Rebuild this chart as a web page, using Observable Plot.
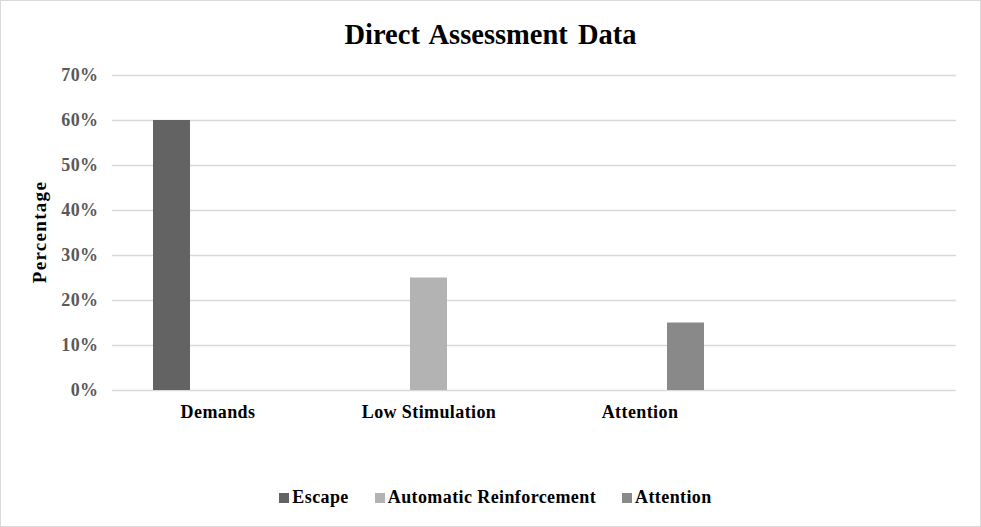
<!DOCTYPE html>
<html>
<head>
<meta charset="utf-8">
<script src="https://cdn.jsdelivr.net/npm/d3@7"></script>
<script src="https://cdn.jsdelivr.net/npm/@observablehq/plot@0.6"></script>
<style>
  html, body { margin: 0; padding: 0; background: #fff; }
  #wrap { position: relative; width: 981px; height: 527px; overflow: hidden; font-family: "Liberation Serif", "Times New Roman", serif; }
  #border { position: absolute; left: 0; top: 0; width: 981px; height: 527px; box-sizing: border-box; border: 1px solid #d9d9d9; pointer-events: none; }
  #title { position: absolute; left: 0; top: 0; width: 981px; height: 70px; line-height: 70px; text-align: center; font-weight: bold; font-size: 28.5px; word-spacing: 3px; color: #000; }
  #chart { position: absolute; left: 0; top: 60px; }
  #chart svg text { letter-spacing: 0.4px; }
  #ylabel { position: absolute; left: 40px; top: 232px; transform: translate(-50%, -50%) rotate(-90deg); font-weight: bold; font-size: 19px; letter-spacing: 1.3px; white-space: nowrap; color: #000; }
  #legend { position: absolute; left: 5px; top: 487px; width: 981px; display: flex; justify-content: center; align-items: center; font-weight: bold; font-size: 18px; letter-spacing: 0.4px; color: #000; }
  .item { display: flex; align-items: center; margin: 0 13px; }
  .sw { width: 10px; height: 10px; margin-right: 3px; }
</style>
</head>
<body>
<div id="wrap">
  <div id="title">Direct Assessment Data</div>
  <div id="chart"></div>
  <div id="ylabel">Percentage</div>
  <div id="legend"></div>
  <div id="border"></div>
</div>
<script>
const categories = ["Demands", "Low Stimulation", "Attention", " "];
const seriesNames = ["Escape", "Automatic Reinforcement", "Attention"];
const escapeValues = [60, null, null, null];
const automaticValues = [null, 25, null, null];
const attentionValues = [null, null, 15, null];
const yTicks = [0, 10, 20, 30, 40, 50, 60, 70];
const seriesColors = ["#636363", "#b3b3b3", "#898989"];

const seriesValues = [escapeValues, automaticValues, attentionValues];
const rows = [];
categories.forEach((c, i) => {
  seriesNames.forEach((s, j) => {
    rows.push({category: c, series: s, value: seriesValues[j][i]});
  });
});

const chart = Plot.plot({
  width: 981,
  height: 380,
  marginTop: 15,
  marginBottom: 50,
  marginLeft: 110,
  marginRight: 24,
  style: {fontFamily: "'Liberation Serif', 'Times New Roman', serif", background: "transparent"},
  fx: {domain: categories, padding: 0, axis: null},
  x: {domain: seriesNames, paddingInner: 0.204, paddingOuter: 0.85, axis: null},
  y: {domain: [0, 70], axis: null},
  color: {domain: seriesNames, range: seriesColors},
  marks: [
    Plot.ruleY(yTicks, {stroke: "#d9d9d9", strokeWidth: 1.5}),
    Plot.barY(rows, {fx: "category", x: "series", y: "value", fill: "series", filter: d => d.value != null}),
    Plot.axisY({ticks: yTicks, tickFormat: d => d + "%", tickSize: 0, tickPadding: 14, fontSize: 18, fontWeight: "bold", color: "#595959", label: null}),
    Plot.axisFx({anchor: "bottom", tickSize: 0, tickPadding: 15, fontSize: 18, fontWeight: "bold", color: "#000", label: null})
  ]
});
document.getElementById("chart").appendChild(chart);

const legend = document.getElementById("legend");
seriesNames.forEach((s, i) => {
  const item = document.createElement("div");
  item.className = "item";
  const sw = document.createElement("span");
  sw.className = "sw";
  sw.style.background = seriesColors[i];
  const t = document.createElement("span");
  t.textContent = s;
  item.appendChild(sw);
  item.appendChild(t);
  legend.appendChild(item);
});
</script>
</body>
</html>
